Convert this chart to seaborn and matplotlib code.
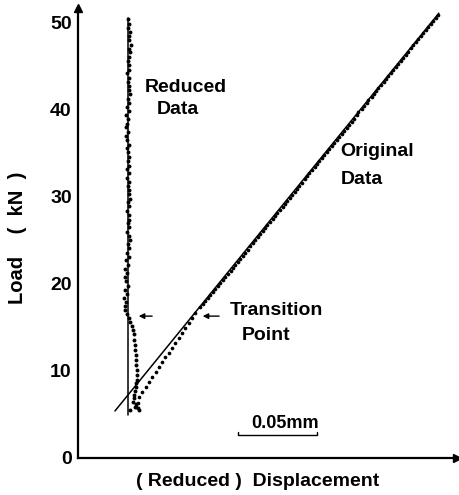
import matplotlib
matplotlib.use("Agg")
import matplotlib.pyplot as plt
import seaborn as sns
import pandas as pd

# Original data (displacement mm, load kN) - lower curved part and points along the line
orig_disp = [0.0367, 0.0380, 0.0386, 0.0407, 0.0428, 0.0449, 0.0470, 0.0491, 0.0512,
             0.0533, 0.0554, 0.0575, 0.0596, 0.0616, 0.0638, 0.0659, 0.0680, 0.0701,
             0.0722, 0.0741,
             0.0772, 0.0806, 0.0836, 0.0869, 0.0901, 0.0931, 0.0966, 0.0995, 0.1027,
             0.1060, 0.1090, 0.1123, 0.1151, 0.1185, 0.1214, 0.1248, 0.1277, 0.1311,
             0.1340, 0.1374, 0.1401, 0.1436, 0.1464, 0.1498, 0.1527, 0.1560, 0.1589,
             0.1622, 0.1651, 0.1685, 0.1714, 0.1748, 0.1776, 0.1810, 0.1838, 0.1872,
             0.1901, 0.1935, 0.1963, 0.1997, 0.2026, 0.2060, 0.2089, 0.2123, 0.2151,
             0.2186, 0.2214, 0.2248, 0.2277]
orig_load = [5.86, 6.32, 7.01, 7.57, 8.15, 8.71, 9.28, 9.85, 10.41,
             10.99, 11.55, 12.11, 12.69, 13.25, 13.82, 14.39, 14.95, 15.53,
             16.09, 16.67,
             17.3, 18.0, 18.7, 19.4, 20.1, 20.8, 21.5, 22.2, 22.9,
             23.6, 24.3, 25.0, 25.7, 26.4, 27.1, 27.8, 28.5, 29.2,
             29.9, 30.6, 31.3, 32.0, 32.7, 33.4, 34.1, 34.8, 35.5,
             36.2, 36.9, 37.6, 38.3, 39.0, 39.7, 40.4, 41.1, 41.8,
             42.5, 43.2, 43.9, 44.6, 45.3, 46.0, 46.7, 47.4, 48.1,
             48.8, 49.5, 50.2, 50.9]
# in-between original points (slightly below the fitted line)
orig_disp_b = [0.0792, 0.0823, 0.0856, 0.0885, 0.0919, 0.0949, 0.0982, 0.1011, 0.1044,
               0.1074, 0.1107, 0.1137, 0.1170, 0.1199, 0.1232, 0.1263, 0.1295, 0.1325,
               0.1357, 0.1388, 0.1421, 0.1450, 0.1483, 0.1513, 0.1546, 0.1576, 0.1608,
               0.1639, 0.1671, 0.1702, 0.1733, 0.1764, 0.1797, 0.1827, 0.1859, 0.1890,
               0.1921, 0.1953, 0.1984, 0.2015, 0.2047, 0.2078, 0.2109, 0.2141, 0.2172,
               0.2203, 0.2234, 0.2265]
orig_load_b = [17.65, 18.35, 19.05, 19.75, 20.45, 21.15, 21.85, 22.55, 23.25,
               23.95, 24.65, 25.35, 26.05, 26.75, 27.45, 28.15, 28.85, 29.55,
               30.25, 30.95, 31.65, 32.35, 33.05, 33.75, 34.45, 35.15, 35.85,
               36.55, 37.25, 37.95, 38.65, 39.35, 40.05, 40.75, 41.45, 42.15,
               42.85, 43.55, 44.25, 44.95, 45.65, 46.35, 47.05, 47.75, 48.45,
               49.15, 49.85, 50.55]

# Reduced data
red_disp = [0.0386, 0.0329, 0.0380, 0.0361, 0.0370, 0.0348, 0.0354, 0.0354, 0.0361,
            0.0367, 0.0370, 0.0373, 0.0373, 0.0373, 0.0370, 0.0367, 0.0367, 0.0363,
            0.0361, 0.0357, 0.0352, 0.0348, 0.0340, 0.0329, 0.0322,
            0.0310, 0.0300, 0.0297, 0.0306, 0.0292, 0.0310, 0.0300, 0.0316, 0.0304,
            0.0297, 0.0310, 0.0300, 0.0316, 0.0304, 0.0320, 0.0313, 0.0326, 0.0316,
            0.0330, 0.0320, 0.0313, 0.0323, 0.0316, 0.0326, 0.0320, 0.0313, 0.0323,
            0.0316, 0.0329, 0.0320, 0.0326, 0.0316, 0.0323, 0.0310, 0.0320, 0.0313,
            0.0323, 0.0316, 0.0326, 0.0316, 0.0310, 0.0320, 0.0313, 0.0307, 0.0316,
            0.0304, 0.0310, 0.0316, 0.0307, 0.0320, 0.0313, 0.0323, 0.0316, 0.0329,
            0.0320, 0.0326, 0.0316, 0.0323, 0.0313, 0.0320, 0.0326, 0.0316, 0.0323,
            0.0329, 0.0320, 0.0335, 0.0326, 0.0320, 0.0329, 0.0316, 0.0323, 0.0316]
red_load = [5.5, 5.5, 5.7, 5.9, 6.2, 6.4, 6.9, 7.2, 7.7,
            8.2, 8.6, 9.0, 9.5, 10.1, 10.7, 11.3, 11.8, 12.4,
            13.0, 13.6, 14.2, 14.7, 15.2, 15.6, 16.1,
            16.6, 17.0, 17.5, 17.9, 18.4, 18.8, 19.3, 19.8, 20.3,
            20.8, 21.2, 21.7, 22.2, 22.7, 23.1, 23.6, 24.1, 24.6,
            25.0, 25.5, 26.0, 26.5, 27.0, 27.4, 27.9, 28.4, 28.9,
            29.4, 29.8, 30.3, 30.8, 31.3, 31.7, 32.2, 32.7, 33.2,
            33.6, 34.1, 34.6, 35.1, 35.6, 36.0, 36.5, 37.0, 37.5,
            38.0, 38.4, 38.9, 39.4, 39.9, 40.3, 40.8, 41.3, 41.8,
            42.3, 42.7, 43.2, 43.7, 44.2, 44.6, 45.1, 45.6, 46.1,
            46.6, 47.0, 47.5, 48.0, 48.5, 48.9, 49.4, 49.9, 50.4]

# fitted straight lines
orig_fit_disp = [0.0234, 0.2285]
orig_fit_load = [5.4, 51.1]
red_fit_disp = [0.0315, 0.0315]
red_fit_load = [4.9, 50.5]

y_ticks = [0, 10, 20, 30, 40, 50]

sns.set_style("white")
plt.rcParams['font.family'] = ['Liberation Sans', 'DejaVu Sans']
plt.rcParams['font.weight'] = 'bold'
plt.rcParams['text.color'] = 'black'
plt.rcParams['ytick.color'] = 'black'
plt.rcParams['ytick.labelcolor'] = 'black'

fig = plt.figure(figsize=(4.6, 4.95), dpi=100)
ax = fig.add_axes([78 / 460, 37 / 495, 379 / 460, 450 / 495])

df_o = pd.DataFrame({'d': orig_disp + orig_disp_b, 'P': orig_load + orig_load_b})
df_r = pd.DataFrame({'d': red_disp, 'P': red_load})
sns.scatterplot(data=df_o, x='d', y='P', ax=ax, s=7, color='black', linewidth=0)
sns.scatterplot(data=df_r, x='d', y='P', ax=ax, s=8, color='black', linewidth=0)
sns.lineplot(x=orig_fit_disp, y=orig_fit_load, ax=ax, color='black', lw=1.1,
             estimator=None, sort=False)
sns.lineplot(x=red_fit_disp, y=red_fit_load, ax=ax, color='black', lw=1.1,
             estimator=None, sort=False)

ax.set_xlim(0, 0.240)
ax.set_ylim(0, 51.7)
ax.set_xticks([])
ax.set_yticks(y_ticks)
ax.tick_params(axis='y', direction='inout', length=5, width=1.4, labelsize=14, pad=2,
               colors='black')
for lab in ax.get_yticklabels():
    lab.set_fontweight('bold')
ax.set_xlabel('')
ax.set_ylabel('')
for side in ['top', 'right']:
    ax.spines[side].set_visible(False)
for side in ['left', 'bottom']:
    ax.spines[side].set_linewidth(1.6)
    ax.spines[side].set_color('black')

# axis arrow heads
ax.plot(0, 1, marker='^', color='black', ms=6, transform=ax.transAxes, clip_on=False)
ax.plot(1, 0, marker='>', color='black', ms=6, transform=ax.transAxes, clip_on=False)

# labels
fs = 14
ax.text(0.0424, 42.6, 'Reduced', fontsize=fs, fontweight='bold', va='center')
ax.text(0.0500, 40.0, 'Data', fontsize=fs, fontweight='bold', va='center')
ax.text(0.1658, 35.2, 'Original', fontsize=fs, fontweight='bold', va='center')
ax.text(0.1665, 32.0, 'Data', fontsize=fs, fontweight='bold', va='center')
ax.text(0.0962, 17.0, 'Transition', fontsize=fs, fontweight='bold', va='center')
ax.text(0.1038, 14.1, 'Point', fontsize=fs, fontweight='bold', va='center')

arrow = dict(arrowstyle='-|>', color='black', lw=1.0, mutation_scale=8)
ax.annotate('', xy=(0.0772, 16.3), xytext=(0.0911, 16.3), arrowprops=arrow)
ax.annotate('', xy=(0.0367, 16.3), xytext=(0.0487, 16.3), arrowprops=arrow)

# scale bar 0.05 mm
ax.plot([0.1013, 0.1013, 0.1513, 0.1513], [3.0, 2.6, 2.6, 3.0], color='black', lw=1.0)
ax.text(0.131, 4.0, '0.05mm', fontsize=13, fontweight='bold', ha='center', va='center')

fig.text(258 / 460, 1 - 482 / 495, '( Reduced )  Displacement', fontsize=fs,
         fontweight='bold', ha='center', va='center')
fig.text(18 / 460, 1 - 238 / 495, 'Load    (  kN  )', fontsize=14.5, fontweight='bold',
         ha='center', va='center', rotation=90)

fig.savefig('out.png', dpi=100)
